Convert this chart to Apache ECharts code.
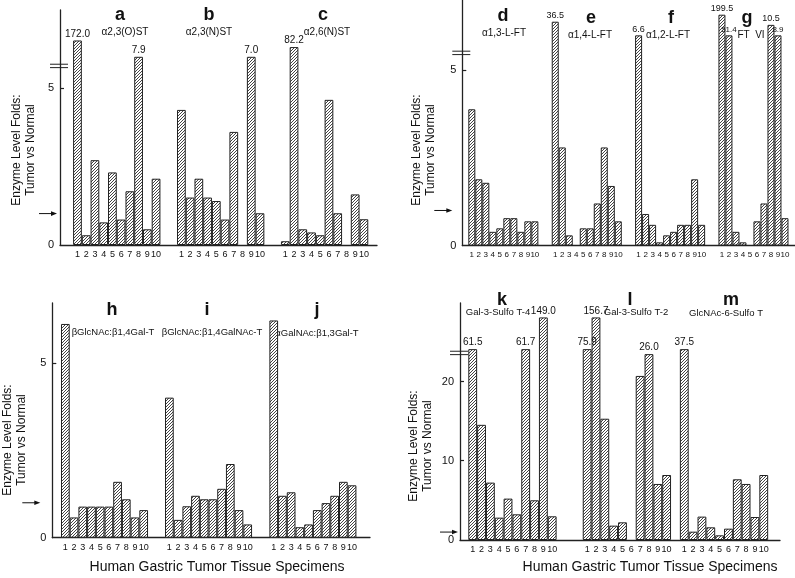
<!DOCTYPE html>
<html><head><meta charset="utf-8">
<script src="https://cdn.jsdelivr.net/npm/echarts@6/dist/echarts.min.js"></script>
<style>html,body{margin:0;padding:0;background:#fff}#c{width:795px;height:578px}</style>
</head><body><div id="c"></div>
<script>
// ================= DATA =================
const specimenLabels = ['1','2','3','4','5','6','7','8','9','10'];

// Panel 1 – sialyltransferases (heights as drawn on the broken axis; null = no bar)
const p1Letters = ['a','b','c'];
const p1Names = ['α2,3(O)ST','α2,3(N)ST','α2,6(N)ST'];
const valsA = [6.51,0.31,2.70,0.72,2.31,0.81,1.71,5.99,0.50,2.11];
const valsB = [4.30,1.51,2.11,1.51,1.40,0.81,3.60,null,5.99,1.01];
const valsC = [0.12,6.30,0.50,0.40,0.31,4.62,1.01,null,1.61,0.82];
const topsA = [[0,'172.0'],[7,'7.9']];
const topsB = [[8,'7.0']];
const topsC = [[1,'82.2']];

// Panel 2 – fucosyltransferases
const p2Letters = ['d','e','f','g'];
const p2Names = ['α1,3-L-FT','α1,4-L-FT','α1,2-L-FT','FT  VI'];
const valsD = [3.89,1.89,1.79,0.39,0.49,0.78,0.78,0.39,0.69,0.69];
const valsE = [6.39,2.80,0.29,null,0.49,0.49,1.20,2.80,1.70,0.69];
const valsF = [6.00,0.90,0.59,0.09,0.29,0.39,0.59,0.59,1.89,0.59];
const valsG = [6.59,6.00,0.39,0.09,null,0.69,1.20,6.30,6.00,0.78];
const topsD = [];
const topsE = [[0,'36.5']];
const topsF = [[0,'6.6']];
const topsG = [[0,'199.5'],[1,'51.4'],[7,'10.5'],[8,'8.9']];

// Panel 3 – galactosyltransferases
const p3Letters = ['h','i','j'];
const p3Names = ['βGlcNAc:β1,4Gal-T','βGlcNAc:β1,4GalNAc-T','αGalNAc:β1,3Gal-T'];
const valsH = [6.12,0.58,0.89,0.89,0.89,0.89,1.60,1.10,0.58,0.79];
const valsI = [4.01,0.51,0.90,1.20,1.10,1.10,1.40,2.11,0.79,0.38];
const valsJ = [6.22,1.20,1.30,0.30,0.38,0.79,0.99,1.20,1.60,1.50];

// Panel 4 – sulfotransferases
const p4Letters = ['k','l','m'];
const p4Names = ['Gal-3-Sulfo T-4','Gal-3-Sulfo T-2','GlcNAc-6-Sulfo T'];
const valsK = [24.08,14.53,7.24,2.82,5.22,3.24,24.08,5.01,28.08,2.99];
const valsL = [24.08,28.08,15.3,1.81,2.23,null,20.7,23.45,7.07,8.2];
const valsM = [24.08,1.05,2.95,1.60,0.59,1.43,7.66,7.07,2.90,8.2];
const topsK = [[0,'61.5'],[6,'61.7'],[8,'149.0']];
const topsL = [[0,'75.9'],[1,'156.7'],[7,'26.0']];
const topsM = [[0,'37.5']];

const yTitle = 'Enzyme Level Folds:\nTumor vs Normal';
const xTitle = 'Human Gastric Tumor Tissue Specimens';
const normalLevel = 1;

// ================= LAYOUT =================
const FONT = '"Liberation Sans", Arial, Helvetica, sans-serif';
const panels = [
  { rect:{left:60, top:10, width:317, height:235}, yMax:7.48, xMax:36.3, starts:[1.5,13.4,25.3],
    yLabels:[0,5], yTicks:[5], breakAt:5.7, arrowGap:3, xFont:9, topFont:10, small:{},
    groups:[[valsA,topsA],[valsB,topsB],[valsC,topsC]] },
  { rect:{left:462.3, top:0, width:332.7, height:245.5}, yMax:7.01, xMax:47.5, starts:[0.86,12.77,24.67,36.57],
    yLabels:[0,5], yTicks:[5], breakAt:5.5, arrowGap:10, xFont:8, topFont:9, small:{'3-1':8,'3-8':8},
    groups:[[valsD,topsD],[valsE,topsE],[valsF,topsF],[valsG,topsG]] },
  { rect:{left:52.3, top:303, width:317.7, height:234.7}, yMax:6.72, xMax:36.5, starts:[1.0,12.95,24.94],
    yLabels:[0,5], yTicks:[5], breakAt:null, arrowGap:12, xFont:9, topFont:10, small:{},
    groups:[[valsH,[]],[valsI,[]],[valsJ,[]]] },
  { rect:{left:460, top:303, width:320, height:237}, yMax:29.9, xMax:36.24, starts:[0.94,13.9,24.9],
    yLabels:[0,10,20], yTicks:[10,20], breakAt:23.6, arrowGap:2, xFont:9, topFont:10, small:{},
    groups:[[valsK,topsK],[valsL,topsL],[valsM,topsM]] }
];

function hatch() {
  const s = 3, c = document.createElement('canvas');
  c.width = s; c.height = s;
  const g = c.getContext('2d');
  g.fillStyle = '#fff'; g.fillRect(0,0,s,s);
  g.strokeStyle = '#222'; g.lineWidth = 0.85;
  g.beginPath();
  g.moveTo(0,s); g.lineTo(s,0);
  g.moveTo(-1,1); g.lineTo(1,-1);
  g.moveTo(s-1,s+1); g.lineTo(s+1,s-1);
  g.stroke();
  return c;
}
const pattern = hatch();

const grids = [], xAxes = [], yAxes = [], series = [];
panels.forEach((p, pi) => {
  grids.push(Object.assign({outerBoundsMode:'none', containLabel:false}, p.rect));
  const data = [], ticks = [], labelMap = {};
  p.groups.forEach(([vals, tops], gi) => {
    vals.forEach((v, i) => {
      const x = p.starts[gi] + i + 0.5;
      ticks.push(x); labelMap[x.toFixed(3)] = specimenLabels[i];
      if (v == null) return;
      const item = {value:[x, v]};
      const t = tops.find(q => q[0] === i);
      if (t) {
        const fs = p.small[gi + '-' + i] || p.topFont;
        item.label = {show:true, position:'top', distance:1.5, formatter:t[1], fontSize:fs, color:'#111', fontFamily:FONT};
      }
      data.push(item);
    });
  });
  xAxes.push({
    type:'value', gridIndex:pi, min:0, max:p.xMax,
    axisLine:{show:true, lineStyle:{color:'#222', width:1.3}},
    axisTick:{show:false}, splitLine:{show:false},
    axisLabel:{show:true, customValues:ticks, margin:5, fontSize:p.xFont, color:'#111', fontFamily:FONT,
      formatter:(v) => labelMap[Number(v).toFixed(3)] || ''}
  });
  yAxes.push({
    type:'value', gridIndex:pi, min:0, max:p.yMax,
    axisLine:{show:true, lineStyle:{color:'#222', width:1.3}},
    axisTick:{show:true, inside:true, length:4, customValues:p.yTicks, lineStyle:{color:'#222', width:1.2}},
    splitLine:{show:false},
    axisLabel:{show:true, customValues:p.yLabels, margin:6, fontSize:11, color:'#111', fontFamily:FONT}
  });
  series.push({
    type:'bar', xAxisIndex:pi, yAxisIndex:pi, data, barWidth:'100%', barGap:'0%',
    itemStyle:{color:{image:pattern, repeat:'repeat'}, borderColor:'#222', borderWidth:1},
    emphasis:{disabled:true}, animation:false
  });
  const deco = [];
  if (p.breakAt != null) deco.push([0, p.breakAt, 0]);
  deco.push([0, normalLevel, 1]);
  series.push({
    type:'custom', xAxisIndex:pi, yAxisIndex:pi, clip:false, silent:true, z:5, animation:false,
    data:deco,
    renderItem(params, api) {
      const c = api.coord([api.value(0), api.value(1)]);
      if (api.value(2) === 0) {
        return {type:'group', children:[
          {type:'line', shape:{x1:c[0]-10, y1:c[1]-1.7, x2:c[0]+8, y2:c[1]-1.7}, style:{stroke:'#222', lineWidth:1}},
          {type:'line', shape:{x1:c[0]-10, y1:c[1]+1.7, x2:c[0]+8, y2:c[1]+1.7}, style:{stroke:'#222', lineWidth:1}}
        ]};
      }
      const tip = c[0] - p.arrowGap;
      return {type:'group', children:[
        {type:'line', shape:{x1:tip-18, y1:c[1], x2:tip-4, y2:c[1]}, style:{stroke:'#111', lineWidth:1}},
        {type:'polygon', shape:{points:[[tip,c[1]],[tip-6,c[1]-2.3],[tip-6,c[1]+2.3]]}, style:{fill:'#111'}}
      ]};
    }
  });
});

// titles (text)
const g = [];
function txt(x, y, text, size, bold, extra) {
  g.push(Object.assign({type:'text', x, y, silent:true,
    style:{text, fontSize:size, fontWeight:bold?'bold':'normal', fontFamily:FONT, fill:'#111',
      align:'center', verticalAlign:'middle'}}, extra || {}));
}
const letterPos = [
  [[120,15],[209,15],[323,15]],
  [[503,16],[591,18],[671,18],[747,18]],
  [[112,310],[207,310],[317,310]],
  [[502,300],[630,300],[731,300]]
];
const namePos = [
  [[125,32],[209,32],[327,32]],
  [[504,33],[590,35],[668,35],[751,35]],
  [[113,332],[212,332],[317,333]],
  [[498,312],[636,312],[726,313]]
];
const nameSize = [10,10,9.5,9.5];
[[p1Letters,p1Names],[p2Letters,p2Names],[p3Letters,p3Names],[p4Letters,p4Names]].forEach(([L,N], pi) => {
  L.forEach((l, i) => txt(letterPos[pi][i][0], letterPos[pi][i][1], l, 18, true));
  N.forEach((n, i) => txt(namePos[pi][i][0], namePos[pi][i][1], n, nameSize[pi], false));
});
const yTitlePos = [[24,150],[424,150],[15,440],[421,446]];
yTitlePos.forEach(([x,y]) => {
  g.push({type:'text', x, y, rotation:Math.PI/2, silent:true,
    style:{text:yTitle, fontSize:12, fontFamily:FONT, fill:'#111', align:'center', verticalAlign:'middle', lineHeight:14}});
});
txt(217, 567, xTitle, 14, false);
txt(650, 567, xTitle, 14, false);

const chart = echarts.init(document.getElementById('c'), null, {renderer:'canvas'});
chart.setOption({
  animation:false,
  textStyle:{fontFamily:FONT},
  grid:grids, xAxis:xAxes, yAxis:yAxes, series, graphic:g
});
</script></body></html>
